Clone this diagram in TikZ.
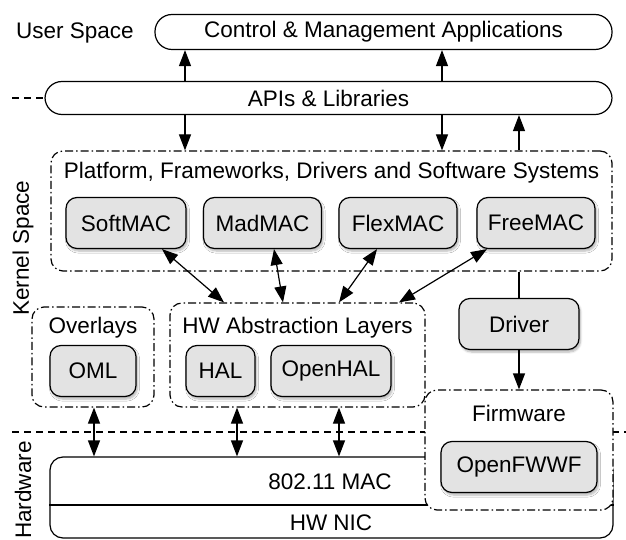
\documentclass[tikz,border=0pt]{standalone}
\usepackage{fontspec}
\setmainfont{Liberation Sans}
\usetikzlibrary{arrows.meta,shadows.blur}

\begin{document}
\begin{tikzpicture}[x=1pt,y=-1pt,
    font=\fontsize{22.5}{27}\selectfont,
    layer/.style={draw,line width=1.2pt,rounded corners=17pt,inner sep=0pt},
    group/.style={draw,fill=white,line width=1.2pt,rounded corners=12pt,dash pattern=on 8pt off 3pt on 1.5pt off 3pt,inner sep=0pt},
    blk/.style={draw,line width=1.2pt,fill=black!11,rounded corners=11pt,minimum height=51pt,inner sep=0pt,
        blur shadow={shadow xshift=1.5pt,shadow yshift=-2.5pt,shadow blur steps=6,shadow opacity=30}},
    arr/.style={line width=1.2pt,-{Triangle[length=16pt,width=12pt]}},
    darr/.style={line width=1.2pt,{Triangle[length=16pt,width=12pt]}-{Triangle[length=16pt,width=12pt]}},
    sep/.style={line width=1.2pt,dash pattern=on 7pt off 5pt}]
    \useasboundingbox (0,0) rectangle (626,540);
    \draw[sep] (12,432) -- (626,432);
    \node[layer,minimum width=457pt,minimum height=35pt] (ctrl) at (383.5,32) {Control \& Management Applications};
    \node (user) at (75,33) {User Space};
    \node[layer,minimum width=567pt,minimum height=33pt] (api) at (328.5,98) {APIs \& Libraries};
    \draw[sep] (12,98) -- (api.west);
    \node[group,minimum width=561pt,minimum height=120pt] (kern) at (331.5,211) {};
    \node (kerntitle) at (331.5,173) {Platform, Frameworks, Drivers and Software Systems};
    \node[blk,minimum width=120pt] (softmac) at (126,223) {SoftMAC};
    \node[blk,minimum width=118pt] (madmac) at (262.5,223) {MadMAC};
    \node[blk,minimum width=118pt] (flexmac) at (398,223) {FlexMAC};
    \node[blk,minimum width=118pt] (freemac) at (536,223) {FreeMAC};
    \node[group,minimum width=122pt,minimum height=100pt] (ovl) at (93,357) {};
    \node (ovltitle) at (93,328) {Overlays};
    \node[blk,minimum width=86pt] (oml) at (93,371) {OML};
    \node[group,minimum width=255pt,minimum height=104pt] (halbox) at (297.5,355) {};
    \node (haltitle) at (297.5,328) {HW Abstraction Layers};
    \node[blk,minimum width=69pt] (hal) at (220.5,371) {HAL};
    \node[blk,minimum width=120pt] (openhal) at (331,371) {OpenHAL};
    \node[blk,minimum width=120pt] (driver) at (519,324) {Driver};
    \node[layer,rounded corners=13pt,minimum width=563pt,minimum height=81pt] (hw) at (331.5,497.5) {};
    \draw[line width=1.2pt] ([yshift=-7.5pt]hw.west) -- ([yshift=-7.5pt]hw.east);
    \node (mac) at (330,482) {802.11 MAC};
    \node (nic) at (331,523) {HW NIC};
    \node[group,minimum width=188pt,minimum height=120pt] (firm) at (519,450) {};
    \node (firmtitle) at (519,413) {Firmware};
    \node[blk,minimum width=156pt] (openfwwf) at (519,467) {OpenFWWF};
    \node[rotate=90] (kspace) at (23,248) {Kernel Space};
    \node[rotate=90] (hwspace) at (23,490) {Hardware};
    \draw[arr] (185,0 |- api.north) -- (185,0 |- ctrl.south);
    \draw[arr] (442,0 |- api.north) -- (442,0 |- ctrl.south);
    \draw[arr] (185,0 |- api.south) -- (185,0 |- kern.north);
    \draw[arr] (442,0 |- api.south) -- (442,0 |- kern.north);
    \draw[arr] (driver |- kern.north) -- (driver |- api.south);
    \draw[line width=1.2pt] (driver.north) -- (driver |- kern.south);
    \draw[arr] (driver.south) -- (firm.north);
    \draw[darr] ([xshift=36pt]softmac.south) -- ([xshift=-73.5pt]halbox.north);
    \draw[darr] ([xshift=11.5pt]madmac.south) -- ([xshift=-14.5pt]halbox.north);
    \draw[darr] ([xshift=-21pt]flexmac.south) -- ([xshift=41.5pt]halbox.north);
    \draw[darr] ([xshift=-49pt]freemac.south) -- ([xshift=101.5pt]halbox.north);
    \draw[darr] ([xshift=1pt]ovl.south) -- ([xshift=1pt]ovl.south |- hw.north);
    \draw[darr] ([xshift=-60.5pt]halbox.south) -- ([xshift=-60.5pt]halbox.south |- hw.north);
    \draw[darr] ([xshift=41.5pt]halbox.south) -- ([xshift=41.5pt]halbox.south |- hw.north);
\end{tikzpicture}
\end{document}
